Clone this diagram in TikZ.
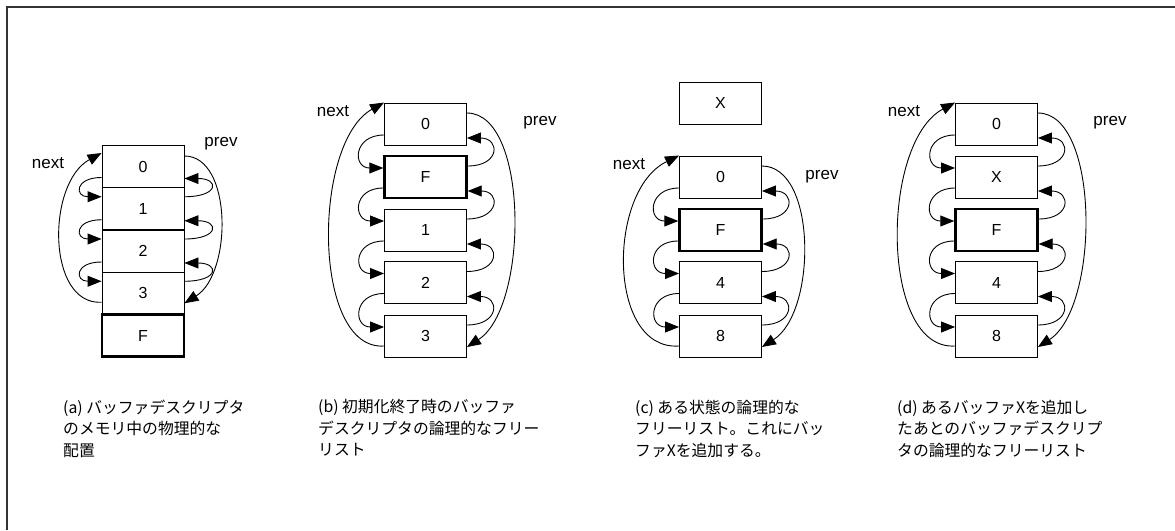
\documentclass[tikz,border=0pt]{standalone}
\usepackage{fontspec}
\setmainfont{Liberation Sans}
\newfontfamily\jp{Noto Sans CJK JP}
\usetikzlibrary{arrows.meta,calc}
\begin{document}
\begin{tikzpicture}[x=1pt,y=-1pt,
  buf/.style={draw,line width=0.9pt,minimum width=82pt,minimum height=42pt,inner sep=0pt,font=\fontsize{16}{19}\selectfont},
  freebuf/.style={buf,line width=2.4pt},
  lnk/.style={line width=0.9pt,-{Triangle[length=14pt,width=11pt]}},
  lbl/.style={font=\fontsize{17}{20}\selectfont,inner sep=0pt},
  captext/.style={font=\jp\fontsize{15.8}{21.5}\selectfont,align=left,anchor=north west,inner sep=0pt}]
\useasboundingbox (0,0) rectangle (1175,530);
\draw[line width=1.5pt,black!80] (1175,7) -- (7,7) -- (7,530);

% ---------------- (a)
\node[buf] (a0) at (143,166.5) {0};
\node[buf] (a1) at (143,208.75) {1};
\node[buf] (a2) at (143,251) {2};
\node[buf] (a3) at (143,293.25) {3};
\node[freebuf] (aF) at (143,335.5) {F};
\foreach \i/\j in {a0/a1,a1/a2,a2/a3}{
  \draw[lnk] ($(\i.west)+(0,11)$) .. controls +(-27,0) and +(-27,0) .. ($(\j.west)+(0,-12)$);
  \draw[lnk] ($(\j.east)+(0,-12)$) .. controls +(35,0) and +(35,0) .. ($(\i.east)+(0,12)$);
}
\draw[lnk] ($(a3.west)+(0,9)$) .. controls +(-55,3) and +(-55,30) .. ($(a0.west)+(0,-13.5)$);
\draw[lnk] ($(a0.east)+(0,-10.5)$) .. controls +(48,0) and +(48,-30) .. ($(a3.east)+(0,10)$);
\node[lbl] (an) at (48,163) {next};
\node[lbl] (ap) at (221,144) {prev};

% ---------------- (b)
\node[buf] (b0) at (425.5,124) {0};
\node[freebuf] (b1) at (425.5,177) {F};
\node[buf] (b2) at (425.5,230) {1};
\node[buf] (b3) at (425.5,282.5) {2};
\node[buf] (b4) at (425.5,336) {3};
\foreach \i/\j in {b0/b1,b1/b2,b2/b3,b3/b4}{
  \draw[lnk] ($(\i.west)+(0,11)$) .. controls +(-31,0) and +(-31,0) .. ($(\j.west)+(0,-9)$);
  \draw[lnk] ($(\j.east)+(0,-11)$) .. controls +(33,0) and +(33,0) .. ($(\i.east)+(0,14)$);
}
\draw[lnk] ($(b4.west)+(0,10)$) .. controls +(-72,5) and +(-72,40) .. (b0.north west);
\draw[lnk] ($(b0.east)+(0,-11)$) .. controls +(62,0) and +(62,-40) .. ($(b4.east)+(0,11)$);
\node[lbl] (bn) at (333,111) {next};
\node[lbl] (bp) at (540,123) {prev};

% ---------------- (c)
\node[buf] (cX) at (720.5,103) {X};
\node[buf] (c0) at (720.5,177) {0};
\node[freebuf] (c1) at (720.5,230) {F};
\node[buf] (c2) at (720.5,282.5) {4};
\node[buf] (c3) at (720.5,336) {8};
\foreach \i/\j in {c0/c1,c1/c2,c2/c3}{
  \draw[lnk] ($(\i.west)+(0,11)$) .. controls +(-31,0) and +(-31,0) .. ($(\j.west)+(0,-9)$);
  \draw[lnk] ($(\j.east)+(0,-11)$) .. controls +(33,0) and +(33,0) .. ($(\i.east)+(0,14)$);
}
\draw[lnk] ($(c3.west)+(0,10)$) .. controls +(-72,5) and +(-72,35) .. (c0.north west);
\draw[lnk] ($(c0.east)+(0,-11)$) .. controls +(55,0) and +(55,-35) .. ($(c3.east)+(0,11)$);
\node[lbl] (cn) at (629,164) {next};
\node[lbl] (cp) at (822,177) {prev};

% ---------------- (d)
\node[buf] (d0) at (996.5,124) {0};
\node[buf] (d1) at (996.5,177) {X};
\node[freebuf] (d2) at (996.5,230) {F};
\node[buf] (d3) at (996.5,282.5) {4};
\node[buf] (d4) at (996.5,336) {8};
\foreach \i/\j in {d0/d1,d1/d2,d2/d3,d3/d4}{
  \draw[lnk] ($(\i.west)+(0,11)$) .. controls +(-31,0) and +(-31,0) .. ($(\j.west)+(0,-9)$);
  \draw[lnk] ($(\j.east)+(0,-11)$) .. controls +(33,0) and +(33,0) .. ($(\i.east)+(0,14)$);
}
\draw[lnk] ($(d4.west)+(0,10)$) .. controls +(-75,5) and +(-75,40) .. (d0.north west);
\draw[lnk] ($(d0.east)+(0,-11)$) .. controls +(62,0) and +(62,-40) .. ($(d4.east)+(0,11)$);
\node[lbl] (dn) at (904,111) {next};
\node[lbl] (dp) at (1110,123) {prev};

% ---------------- captions
\node[captext] (capa) at (63,399.5) {(a) バッファデスクリプタ\\のメモリ中の物理的な\\配置};
\node[captext] (capb) at (318,399.5) {(b) 初期化終了時のバッファ\\デスクリプタの論理的なフリー\\リスト};
\node[captext] (capc) at (635,399.5) {(c) ある状態の論理的な\\フリーリスト。これにバッ\\ファXを追加する。};
\node[captext] (capd) at (897,399.5) {(d) あるバッファXを追加し\\たあとのバッファデスクリプ\\タの論理的なフリーリスト};
\end{tikzpicture}
\end{document}
